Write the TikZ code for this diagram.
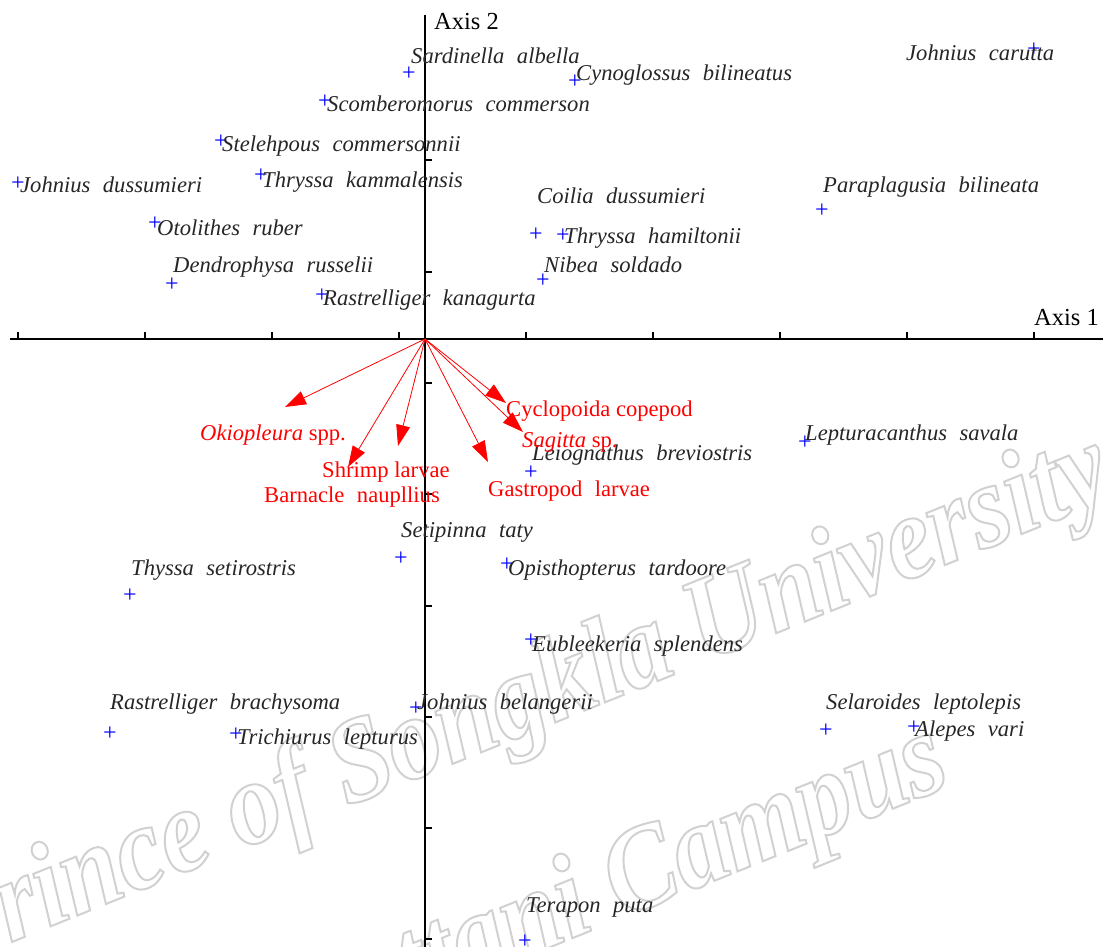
\documentclass[tikz,border=0pt]{standalone}
\usepackage{fontspec}
\setmainfont{Liberation Serif}
\newfontfamily\stampfont[FakeStretch=0.88]{Liberation Serif Bold Italic}
\usetikzlibrary{arrows.meta}

% wider gap between genus and species
\newcommand\wsp{\hspace{0.55em}}
% outlined letters for the watermark
\newcommand\hollow[1]{\special{pdf:literal direct 1 Tr 2 w}#1\special{pdf:literal direct 0 Tr 1 w}}

\begin{document}
\begin{tikzpicture}[
		x=1pt, y=-1pt,
		spname/.style={anchor=west, inner sep=0pt, text height=15pt, text depth=5pt, yshift=-2pt,
			font=\fontsize{22.6}{24}\selectfont\itshape, text=black!85},
		varname/.style={anchor=west, inner sep=0pt, text height=15pt, text depth=5pt, yshift=-1pt,
			font=\fontsize{22.6}{24}\selectfont, text=red},
		axlabel/.style={anchor=west, inner sep=0pt, font=\fontsize{24.5}{26}\selectfont},
		spot/.style={inner sep=0pt, yshift=-2pt, text=blue, font=\fontsize{24}{24}\selectfont},
		vec/.style={red, line width=0.8pt, -{Triangle[length=21pt, width=14pt]}},
		stamp/.style={anchor=base west, inner sep=0pt, rotate=22, text=gray!36,
			font=\fontsize{120}{124}\stampfont}
	]
		\useasboundingbox (0,0) rectangle (1103,947);

		% watermark
		\node[stamp] (wm1) at (-50,967) {\hollow{Prince of Songkla University}};
		\node[stamp] (wm2) at (303,1047) {\hollow{Pattani Campus}};

		% axes
		\def\ox{425}
		\def\oy{339}
		\coordinate (o) at (\ox,\oy);
		\coordinate (xa) at (10,\oy);
		\coordinate (xb) at (1103,\oy);
		\coordinate (ya) at (\ox,15);
		\coordinate (yb) at (\ox,947);
		\draw[line width=2.4pt] (xa) -- (xb);
		\draw[line width=2.4pt] (ya) -- (yb);
		\foreach \x in {18,145,272,399,526,653,780,907,1034}
			\draw[line width=2pt] (\x,\oy) -- (\x,\oy-7);
		\foreach \y in {160,272,383,494,606,717,828,939}
			\draw[line width=2pt] (\ox,\y) -- (\ox+7,\y);
		\node[axlabel] (ax2) at (434,22) {Axis 2};
		\node[axlabel] (ax1) at (1034,318) {Axis 1};

		% species scores
		\foreach \n/\x/\y in {sard/409/72, cyno/575/80, scom/325/100, stel/221/140,
			tkam/261/174, jdus/18/182, otol/155/222, dend/172/283, rkan/322/294,
			coil/536/233, tham/563/234, nibe/543/279, jcar/1034/48, para/822/209,
			lept/805/441, leio/531/471, seti/401/557, opis/507/563, tset/130/594,
			eubl/531/639, rbra/110/732, tric/236/733, jbel/416/707, sela/826/729,
			alep/914/726, tera/525/940}
			\node[spot] (m\n) at (\x,\y) {+};

		\node[spname] (sard) at (411,57) {Sardinella\wsp albella};
		\node[spname] (cyno) at (576,74) {Cynoglossus\wsp bilineatus};
		\node[spname] (scom) at (327,105) {Scomberomorus\wsp commerson};
		\node[spname] (stel) at (222,145) {Stelehpous\wsp commersonnii};
		\node[spname] (tkam) at (262,180) {Thryssa\wsp kammalensis};
		\node[spname] (jdus) at (20,186) {Johnius\wsp dussumieri};
		\node[spname] (otol) at (157,228) {Otolithes\wsp ruber};
		\node[spname] (dend) at (173,265) {Dendrophysa\wsp russelii};
		\node[spname] (rkan) at (323,298) {Rastrelliger\wsp kanagurta};
		\node[spname] (coil) at (537,196) {Coilia\wsp dussumieri};
		\node[spname] (tham) at (564,236) {Thryssa\wsp hamiltonii};
		\node[spname] (nibe) at (544,265) {Nibea\wsp soldado};
		\node[spname] (jcar) at (906,54) {Johnius\wsp carutta};
		\node[spname] (para) at (823,185) {Paraplagusia\wsp bilineata};
		\node[spname] (lept) at (805,433) {Lepturacanthus\wsp savala};
		\node[spname] (leio) at (532,453) {Leiognathus\wsp breviostris};
		\node[spname] (seti) at (401,530) {Setipinna\wsp taty};
		\node[spname] (opis) at (508,568) {Opisthopterus\wsp tardoore};
		\node[spname] (tset) at (131,568) {Thyssa\wsp setirostris};
		\node[spname] (eubl) at (532,644) {Eubleekeria\wsp splendens};
		\node[spname] (rbra) at (110,702) {Rastrelliger\wsp brachysoma};
		\node[spname] (tric) at (237,737) {Trichiurus\wsp lepturus};
		\node[spname] (jbel) at (417,702) {Johnius\wsp belangerii};
		\node[spname] (sela) at (826,702) {Selaroides\wsp leptolepis};
		\node[spname] (alep) at (915,729) {Alepes\wsp vari};
		\node[spname] (tera) at (526,905) {Terapon\wsp puta};

		% zooplankton vectors
		\coordinate (vokio) at (285,407);
		\coordinate (vshri) at (348,467);
		\coordinate (vbarn) at (398,446);
		\coordinate (vgast) at (488,462);
		\coordinate (vcycl) at (506,403);
		\coordinate (vsagi) at (523,432);
		\foreach \v in {vokio,vshri,vbarn,vgast,vcycl,vsagi}
			\draw[vec] (o) -- (\v);

		\node[varname] (okio) at (200,434) {\textit{Okiopleura} spp.};
		\node[varname] (cycl) at (506,410) {Cyclopoida copepod};
		\node[varname] (sagi) at (522,441) {\textit{Sagitta} sp.};
		\node[varname] (shri) at (322,471) {Shrimp larvae};
		\node[varname] (barn) at (264,496) {Barnacle\wsp naupllius};
		\node[varname] (gast) at (488,490) {Gastropod\wsp larvae};
	\end{tikzpicture}
\end{document}
